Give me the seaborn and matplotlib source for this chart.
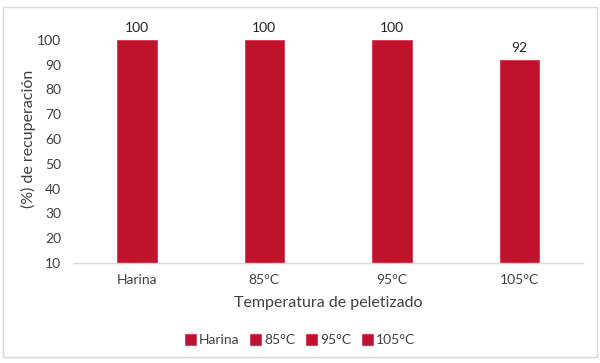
import matplotlib
matplotlib.use("Agg")
import matplotlib.pyplot as plt
import seaborn as sns
import pandas as pd
from matplotlib.patches import Rectangle

categories = ["Harina", "85°C", "95°C", "105°C"]
values = [100, 100, 100, 92]
yticks = [10, 20, 30, 40, 50, 60, 70, 80, 90, 100]

bar_color = "#C0122C"
text_color = "#404040"

sns.set_theme(style="white")
plt.rcParams['font.family'] = ['Lato', 'DejaVu Sans']

df = pd.DataFrame({"cat": categories, "val": values})

fig = plt.figure(figsize=(6.0, 3.63), dpi=100)
ax = fig.add_axes([0.1217, 0.2755, 0.85, 0.683])

sns.barplot(data=df, x="cat", y="val", hue="cat", order=categories, hue_order=categories,
            palette=[bar_color] * len(categories), dodge=False, width=0.31, saturation=1,
            edgecolor="#D9324A", linewidth=0.6, legend=True, ax=ax)

ax.set_ylim(10, 110)
ax.set_yticks(yticks)
ax.set_yticklabels([str(t) for t in yticks], fontsize=10, color=text_color)
ax.set_xlim(-0.5, len(categories) - 0.5)
ax.tick_params(axis='x', labelsize=10, colors=text_color, length=0, pad=8)
ax.tick_params(axis='y', length=0, pad=8.5)
for lbl in ax.get_xticklabels():
    lbl.set_color(text_color)

for s in ["top", "right", "left"]:
    ax.spines[s].set_visible(False)
ax.spines["bottom"].set_color("#D9D9D9")
ax.spines["bottom"].set_linewidth(1.0)

ax.set_xlabel("Temperatura de peletizado", fontsize=11.5, color=text_color, labelpad=7)
ax.set_ylabel("(%) de recuperación", fontsize=11.5, color=text_color, labelpad=1)

for i, v in enumerate(values):
    ax.text(i, v + 2.3, f"{v:g}", ha="center", va="bottom", fontsize=10, color="#222222")

handles, labels = ax.get_legend_handles_labels()
ax.legend(handles, labels, loc="center", bbox_to_anchor=(0.5, 0.063), bbox_transform=fig.transFigure,
          ncol=4, frameon=False, fontsize=10, handlelength=0.8, handleheight=0.8,
          handletextpad=0.2, columnspacing=0.8, labelcolor=text_color)

fig.patches.append(Rectangle((0.005, 0.017), 0.99, 0.963, transform=fig.transFigure,
                             fill=False, edgecolor="#D9D9D9", linewidth=1.0))

fig.savefig("out.png", dpi=100, facecolor="white")
